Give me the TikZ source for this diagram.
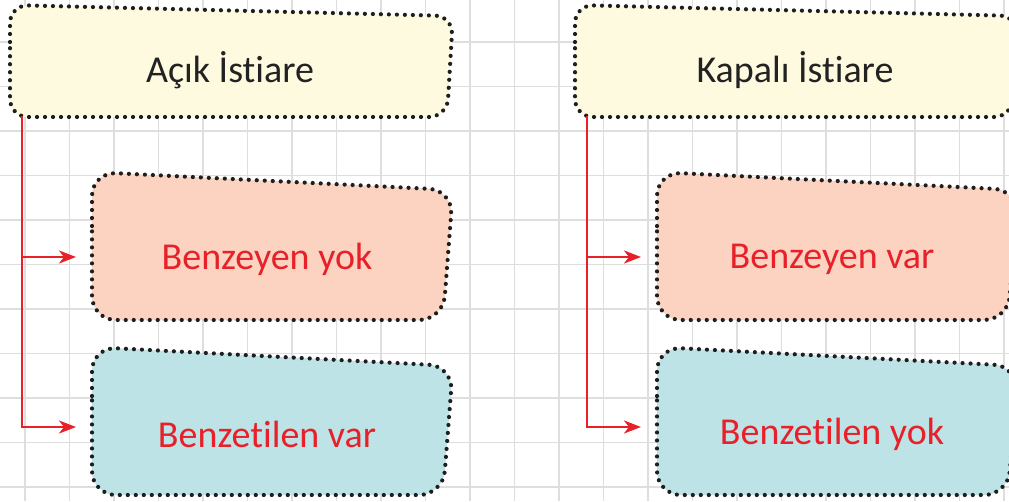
\documentclass[tikz,border=0pt]{standalone}
\usepackage{fontspec}
\setmainfont{Carlito}[Ligatures={NoCommon}]
\usetikzlibrary{arrows.meta}
\definecolor{gridc}{HTML}{DEDEDE}
\definecolor{yel}{HTML}{FEFADF}
\definecolor{sal}{HTML}{FBD3C0}
\definecolor{teal2}{HTML}{BDE3E6}
\definecolor{redc}{HTML}{E8202A}
\definecolor{dotc}{HTML}{1E1E1E}
\definecolor{txtc}{HTML}{222222}
\tikzset{
  dotbox/.style={draw=dotc, line width=4.2pt, line cap=round, dash pattern=on 0pt off 8pt, rounded corners=24pt},
  conn/.style={draw=redc, line width=2.5pt, -{Stealth[length=17pt,width=13pt,inset=5pt]}},
  conn0/.style={draw=redc, line width=2.5pt},
  headtxt/.style={text=txtc, font=\fontsize{38}{40}\selectfont, inner sep=0pt},
  subtxt/.style={text=redc, font=\fontsize{38}{40}\selectfont, inner sep=0pt}
}
\begin{document}
\begin{tikzpicture}[x=1pt,y=-1pt]
\useasboundingbox (0,0) rectangle (1009,501);
\clip (0,0) rectangle (1009,501);
\fill[white] (0,0) rectangle (1009,501);
% grid
\foreach \k in {0,...,22} {\draw[gridc, line width=1.4pt] ({25+44.5*\k},0) -- ({25+44.5*\k},501);}
\foreach \k in {0,...,10} {\draw[gridc, line width=1.4pt] (0,{42+44.5*\k}) -- (1009,{42+44.5*\k});}

\foreach \dx/\na in {0/L,565/R} {
\begin{scope}[xshift=\dx]
  % header box
  \path[fill=yel, dotbox, rounded corners=18pt] (10,60) -- (10,5) -- (453,16) -- (447,117) -- (10,117) -- cycle;
  % salmon box
  \path[fill=sal, dotbox] (92,250) -- (92,172) -- (453,190) -- (443,320) -- (92,320) -- cycle;
  % teal box
  \path[fill=teal2, dotbox] (92,420) -- (92,347) -- (453,366) -- (443,495) -- (92,495) -- cycle;
  % junction coordinates
  \coordinate (top\na) at (22,116);
  \coordinate (mid\na) at (22,257);
  \coordinate (endA\na) at (76,257);
  \coordinate (endB\na) at (76,427);
\end{scope}
}
% connectors
\draw[conn0] (topL) -- (midL);
\draw[conn] (midL) -- (endAL);
\draw[conn] (topL) |- (endBL);
\draw[conn0] (topR) -- (midR);
\draw[conn] (midR) -- (endAR);
\draw[conn] (topR) |- (endBR);

% texts
\node[headtxt] (h1) at (230,70) {Açık İstiare};
\node[headtxt] (h2) at (795,70) {Kapalı İstiare};
\node[subtxt] (s1) at (267,259) {Benzeyen yok};
\node[subtxt] (s2) at (267,434) {Benzetilen var};
\node[subtxt] (s3) at (832,259) {Benzeyen var};
\node[subtxt] (s4) at (832,434) {Benzetilen yok};
\end{tikzpicture}
\end{document}
